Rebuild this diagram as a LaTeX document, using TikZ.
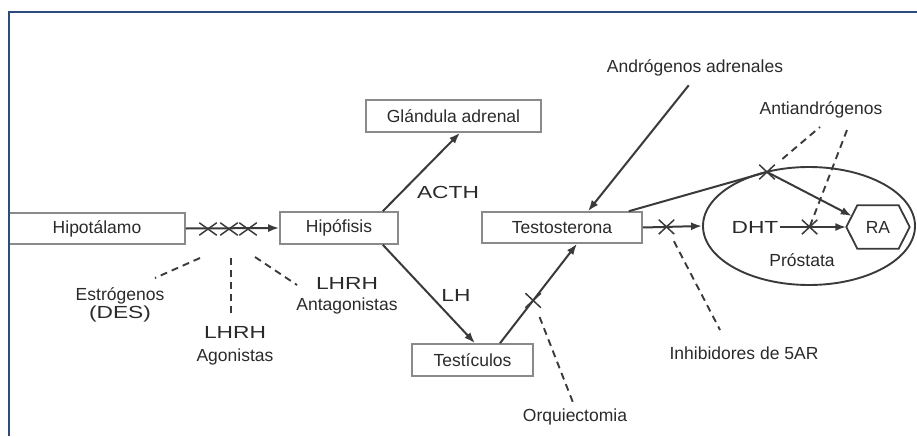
\documentclass[tikz,border=0pt]{standalone}
\usepackage{fontspec}
\setmainfont{Liberation Sans}
\newfontfamily\widefam[FakeStretch=1.3]{Liberation Sans}
\usepackage{xcolor}
\usetikzlibrary{shapes.geometric, shapes.misc, arrows.meta, positioning}
\definecolor{framecol}{HTML}{2C4A7A}
\definecolor{linecol}{HTML}{3A3A3A}
\definecolor{boxcol}{HTML}{8A8A8A}
\definecolor{txtcol}{HTML}{2A2A2A}
\newcommand{\lblfont}{\fontsize{17.5}{20}\selectfont}
\newcommand{\wfont}{\widefam\fontsize{17.5}{20}\selectfont}

\begin{document}
\begin{tikzpicture}[
  x=1pt, y=-1pt,
  block/.style={rectangle, draw=boxcol, line width=1.6pt, inner sep=0pt, text=txtcol, font=\lblfont},
  lbl/.style={inner sep=1pt, text=txtcol, font=\lblfont, align=center},
  widelbl/.style={lbl, font=\wfont},
  arrow/.style={-{Latex[length=11pt,width=8pt]}, line width=2pt, draw=linecol},
  dashline/.style={dash pattern=on 7pt off 5pt, line width=1.9pt, draw=linecol},
  xmark/.style={cross out, draw=linecol, line width=1.5pt, inner sep=0pt, minimum width=14pt, minimum height=13pt}
]
\useasboundingbox (0,0) rectangle (917,436);

% organ boxes
\node[block, minimum width=176pt, minimum height=31pt] (hipot) at (97,228.5) {Hipotálamo};
\node[block, minimum width=118pt, minimum height=32pt] (hipof) at (339,228) {Hipófisis};
\node[block, minimum width=175pt, minimum height=32pt] (glandula) at (453.5,116) {Glándula adrenal};
\node[block, minimum width=160pt, minimum height=31pt] (testo) at (562,227.5) {Testosterona};
\node[block, minimum width=121pt, minimum height=32pt] (testic) at (472.5,360) {Testículos};

% prostate
\node[ellipse, draw=linecol, line width=1.9pt, minimum width=212pt, minimum height=118pt] (prost) at (809,226) {};
\node[lbl] (prostlbl) at (802,260) {Próstata};
\node[widelbl] (dht) at (755,227) {DHT};
\node[minimum width=63pt, minimum height=43pt, inner sep=0pt, font=\lblfont, text=txtcol] (ra) at (878,227) {RA};
\draw[linecol, line width=1.8pt] (ra.west) -- ([xshift=11pt]ra.north west) -- ([xshift=-11pt]ra.north east)
  -- (ra.east) -- ([xshift=-11pt]ra.south east) -- ([xshift=11pt]ra.south west) -- cycle;

% labels
\node[widelbl] (acth) at (448,192) {ACTH};
\node[widelbl] (lh) at (456,295) {LH};
\node[lbl] (estro) at (120,305) {Estrógenos\\[-2pt]{\wfont (DES)}};
\node[lbl] (agon) at (235,346) {{\wfont LHRH}\\[3pt]Agonistas};
\node[lbl] (antag) at (347,296) {{\wfont LHRH}\\[1pt]Antagonistas};
\node[lbl] (andro) at (695,68) {Andrógenos adrenales};
\node[lbl] (antiandro) at (821,110) {Antiandrógenos};
\node[lbl] (inhib) at (744,353) {Inhibidores de 5AR};
\node[lbl] (orq) at (575,417) {Orquiectomia};

% free ends of the dashed lines
\coordinate (e1) at (200,258);
\coordinate (e2) at (155,278);
\coordinate (a1) at (231,258);
\coordinate (a2) at (231,315);
\coordinate (n1) at (255,257);
\coordinate (n2) at (297,285);
\coordinate (i1) at (720,330);
\coordinate (aa1) at (820,127);
\coordinate (aa2) at (847,130);

% blocks
\node[xmark] (xa) at (767,172) {};
\foreach \xx/\nm in {208/xh1, 229/xh2, 248/xh3}
  \node[xmark, minimum width=16pt, minimum height=11pt] (\nm) at (\xx,229) {};

% axis
\draw[arrow] (hipot.east) -- (hipof.west);
\draw[arrow] ([xshift=-16pt]hipof.north east) -- ([xshift=6.5pt]glandula.south);
\draw[arrow] ([xshift=-16pt]hipof.south east) -- ([xshift=2.5pt]testic.north);
\draw[arrow] ([xshift=27.5pt]testic.north) -- node[xmark, pos=.43] (xo) {} ([xshift=15pt]testo.south);
\draw[arrow, shorten <=10pt] (andro.south) -- ([xshift=26pt]testo.north);
\draw[arrow] (testo.east) -- node[xmark, pos=.4] (xt) {} (prost.west);
\draw[arrow] ([xshift=-14pt]testo.north east) -- (xa.center) -- ([xshift=5.5pt,yshift=11pt]ra.west);
\draw[arrow] (dht.east) -- node[xmark, pos=.45] (xd) {} (ra.west);

% inhibitors
\draw[dashline] (e1) -- (e2);
\draw[dashline] (a1) -- (a2);
\draw[dashline] (n1) -- (n2);
\draw[dashline, shorten <=10pt, shorten >=2pt] (xo) -- (orq.north);
\draw[dashline, shorten <=8pt] (xt) -- (i1);
\draw[dashline, shorten <=10pt] (xa) -- (aa1);
\draw[dashline] (aa2) -- (xd.center);

% frame
\draw[framecol, line width=2.2pt] (9,436) -- (9,12) -- (917,12);
\end{tikzpicture}
\end{document}
